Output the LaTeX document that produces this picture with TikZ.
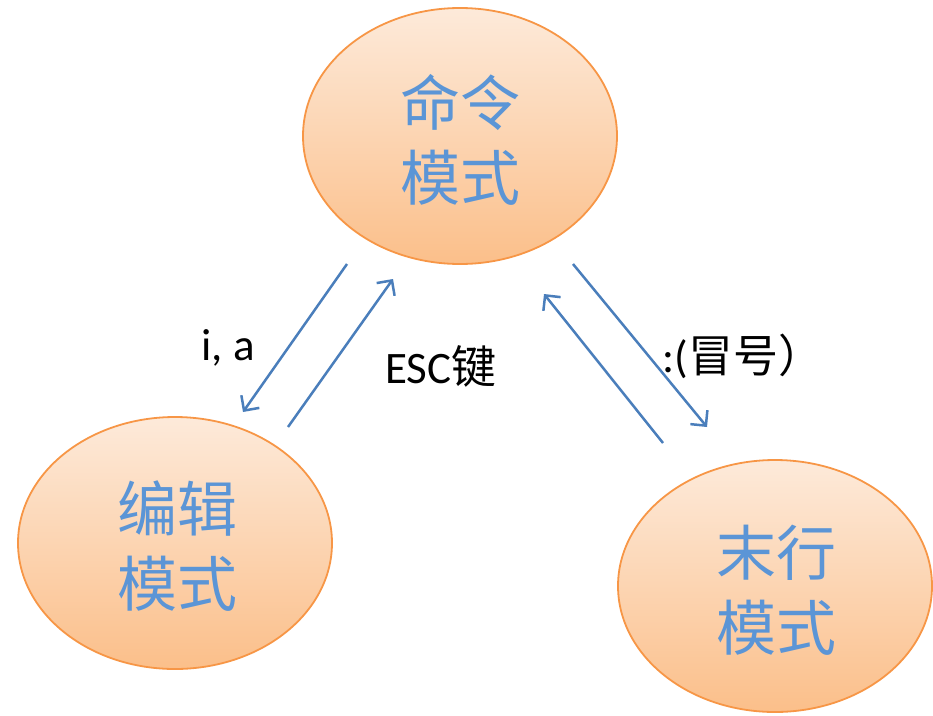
\documentclass[tikz,border=0pt]{standalone}
\usepackage{fontspec}
\setmainfont{Carlito}
\newfontfamily\cjk{Noto Sans CJK SC}
\usetikzlibrary{arrows.meta,shapes.geometric}
\definecolor{ebord}{HTML}{F79646}
\definecolor{etop}{HTML}{FDEADA}
\definecolor{ebot}{HTML}{FBBF8A}
\definecolor{etext}{HTML}{5B95D6}
\definecolor{arr}{HTML}{4A7EBB}
\begin{document}
\begin{tikzpicture}[x=1pt,y=-1pt,
  modebox/.style={ellipse, draw=ebord, line width=1.8pt, top color=etop, bottom color=ebot,
    minimum width=314pt, minimum height=252pt, inner sep=0pt},
  modetext/.style={text=etext, font=\cjk\fontsize{60}{75}\selectfont, align=center},
  flow/.style={draw=arr, line width=2.5pt, -{Straight Barb[length=11pt,width=22pt,line width=2.5pt]}},
  lbl/.style={font=\fontsize{45}{54}\selectfont, text=black, inner sep=0pt}]
\useasboundingbox (0,0) rectangle (933,715);
\node[modebox, minimum height=256pt] (cmd) at (460,136) {};
\node[modetext] (cmdt) at (460,140) {命令\\模式};
\node[modebox] (edit) at (175,543) {};
\node[modetext] (editt) at (177,546) {编辑\\模式};
\node[modebox] (last) at (775,586) {};
\node[modetext] (lastt) at (776,590) {末行\\模式};
\coordinate (a1s) at (347,264);
\coordinate (a1e) at (243,412);
\coordinate (a2s) at (288,427);
\coordinate (a2e) at (393,279);
\coordinate (a3s) at (573,264);
\coordinate (a3e) at (707,427);
\coordinate (a4s) at (663,443);
\coordinate (a4e) at (544,294);
\draw[flow] (a1s) -- (a1e);
\draw[flow] (a2s) -- (a2e);
\draw[flow] (a3s) -- (a3e);
\draw[flow] (a4s) -- (a4e);
\node[lbl] (l1) at (228,348) {i, a};
\node[lbl] (l2) at (441,366) {ESC{\cjk 键}};
\node[lbl] (l3) at (743,356) {:({\cjk 冒号）}};
\end{tikzpicture}
\end{document}
